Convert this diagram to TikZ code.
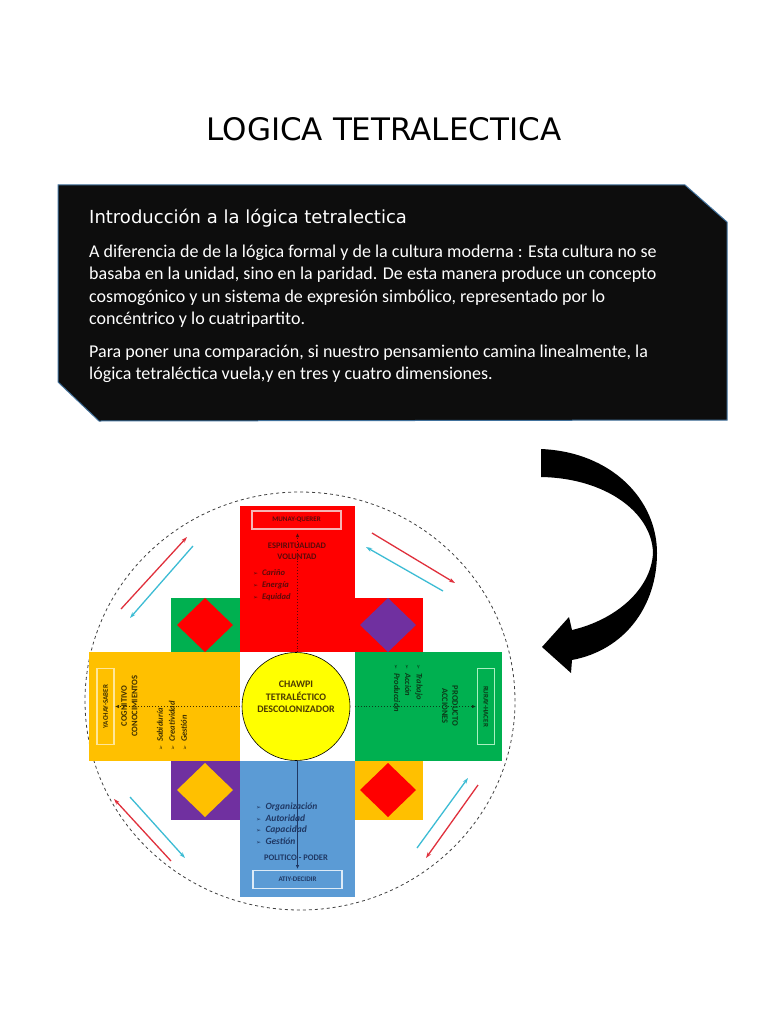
\documentclass[tikz,border=0pt]{standalone}
\usepackage{fontspec}
\setmainfont{Carlito}
\newfontfamily\dejavu{DejaVu Sans}
\usetikzlibrary{arrows.meta}
\definecolor{boxblack}{HTML}{0D0D0D}
\definecolor{boxedge}{HTML}{41719C}
\definecolor{cred}{HTML}{FF0000}
\definecolor{cgreen}{HTML}{00B050}
\definecolor{corange}{HTML}{FFC000}
\definecolor{cblue}{HTML}{5B9BD5}
\definecolor{cpurple}{HTML}{7030A0}
\definecolor{cyellow}{HTML}{FFFF00}
\definecolor{arrred}{HTML}{E0303C}
\definecolor{arrcyan}{HTML}{3CBCD4}
\definecolor{tred}{HTML}{5C0A0A}
\definecolor{tyel}{HTML}{3F3000}
\definecolor{tgrn}{HTML}{0B3D1A}
\definecolor{tblu}{HTML}{1F3864}
\definecolor{tcen}{HTML}{4D3B00}
\definecolor{lpink}{HTML}{F6B4B4}
\definecolor{lyel}{HTML}{FFE699}
\definecolor{lgrn}{HTML}{A9F0C0}
\definecolor{lblu}{HTML}{DDEBF7}
\begin{document}
\begin{tikzpicture}[x=1pt,y=-1pt,
  bodytext/.style={anchor=base west,inner sep=0,text=white,font=\fontsize{18}{21}\selectfont},
  arm/.style={inner sep=0,draw=none},
  lblbox/.style={draw=#1,line width=1.3pt,inner sep=0,minimum width=89pt,minimum height=18pt,font=\bfseries\fontsize{7}{8}\selectfont},
  small/.style={inner sep=0,font=\bfseries\fontsize{8.5}{10}\selectfont},
  item/.style={inner sep=0,font=\bfseries\itshape\fontsize{8.5}{10}\selectfont},
  dotarrow/.style={dotted,line width=0.9pt,-{Latex[length=4pt,width=3.5pt]}},
  diag/.style={line width=1.3pt,-{Stealth[length=6pt,width=4pt]}},
]
\useasboundingbox (0,0) rectangle (768,1024);
\fill[white] (0,0) rectangle (768,1024);

% title
\node[anchor=base,inner sep=0,font=\dejavu\fontsize{31}{36}\selectfont] (title) at (384,141) {LOGICA TETRALECTICA};

% black text box
\draw[boxedge,fill=boxblack,line width=1pt] (58,185) -- (685,185) -- (727,222) -- (727,420) -- (99,421) -- (58,382) -- cycle;
\node[anchor=base west,inner sep=0,text=white,font=\dejavu\fontsize{18}{21}\selectfont] (head) at (89,224) {Introducción a la lógica tetralectica};
\node[bodytext] (l1) at (89,257) {A diferencia de de la lógica formal y de la cultura moderna : Esta cultura no se};
\node[bodytext] (l2) at (89,279) {basaba en la unidad, sino en la paridad. De esta manera produce un concepto};
\node[bodytext] (l3) at (89,302) {cosmogónico y un sistema de expresión simbólico, representado por lo};
\node[bodytext] (l4) at (89,324) {concéntrico y lo cuatripartito.};
\node[bodytext] (l5) at (89,357) {Para poner una comparación, si nuestro pensamiento camina linealmente, la};
\node[bodytext] (l6) at (89,379) {lógica tetraléctica vuela,y en tres y cuatro dimensiones.};

% big curved arrow
\fill[black] (541,449) .. controls (612,452) and (657,500) .. (657,553)
  .. controls (657,606) and (625,650) .. (572,660)
  -- (571,673) -- (542,647) -- (569,617) -- (572,630)
  .. controls (615,620) and (651,590) .. (653,553)
  .. controls (652,512) and (605,478) .. (541,477) -- cycle;

% dashed outer circle
\draw[dashed,line width=0.8pt,black!75] (300,701) ellipse [x radius=215pt,y radius=209pt];

% small corner squares with diamonds
\node[arm,fill=cgreen,minimum width=69pt,minimum height=54pt] (sqTL) at (205.5,625) {};
\node[arm,fill=cred,minimum width=69pt,minimum height=54pt] (sqTR) at (388.5,625) {};
\node[arm,fill=cpurple,minimum width=69pt,minimum height=59pt] (sqBL) at (205.5,790.5) {};
\node[arm,fill=corange,minimum width=69pt,minimum height=59pt] (sqBR) at (388.5,790.5) {};
\fill[cred] (205,598) -- (233,625) -- (205,652) -- (177,625) -- cycle;
\fill[cpurple] (388,598) -- (416,625) -- (388,652) -- (360,625) -- cycle;
\fill[corange] (205,763) -- (233,790) -- (205,817) -- (177,790) -- cycle;
\fill[cred] (388,763) -- (416,790) -- (388,817) -- (360,790) -- cycle;

% cross arms
\node[arm,fill=cred,minimum width=115pt,minimum height=146pt] (armT) at (297.5,579) {};
\node[arm,fill=cblue,minimum width=115pt,minimum height=136pt] (armB) at (297.5,829) {};
\node[arm,fill=corange,minimum width=151pt,minimum height=109pt] (armL) at (164.5,706.5) {};
\node[arm,fill=cgreen,minimum width=147pt,minimum height=109pt] (armR) at (428.5,706.5) {};

% label boxes
\node[lblbox=lpink,text=tred] (labT) at (296.5,520) {MUNAY-QUERER};
\node[lblbox=lblu,text=tblu] (labB) at (297.5,879.5) {ATIY-DECIDIR};
\node[lblbox=lyel,text=tyel,rotate=90,minimum width=76pt,minimum height=17pt] (labL) at (105.5,706.5) {YACHAY-SABER};
\node[lblbox=lgrn,text=tgrn,rotate=-90,minimum width=76pt,minimum height=17pt] (labR) at (486,706.5) {RURAY-HACER};

% axis arrows
\coordinate (tipT) at (297.5,533);
\coordinate (tipB) at (297.5,869);
\coordinate (tipL) at (115,706.5);
\coordinate (tipR) at (476,706.5);
\draw[dotarrow,tred] (armT.south) -- (tipT);
\draw[dotarrow,tyel] (armL.east) -- (tipL);
\draw[dotarrow,tgrn] (armR.west) -- (tipR);
\draw[line width=0.9pt,tblu,-{Latex[length=4pt,width=3.5pt]}] (armB.north) -- (tipB);

% top arm texts
\node[small,text=tred] (tT1) at (297,546) {ESPIRITUALIDAD};
\node[small,text=tred] (tT2) at (297,557) {VOLUNTAD};
\node[item,text=tred,anchor=west] (tT3) at (253,573) {{\dejavu\fontsize{6}{7}\selectfont ➢}\ \ Cariño};
\node[item,text=tred,anchor=west] (tT4) at (253,585) {{\dejavu\fontsize{6}{7}\selectfont ➢}\ \ Energía};
\node[item,text=tred,anchor=west] (tT5) at (253,597) {{\dejavu\fontsize{6}{7}\selectfont ➢}\ \ Equidad};

% bottom arm texts
\node[item,text=tblu,anchor=west,font=\bfseries\itshape\fontsize{9.5}{11}\selectfont] (tB1) at (256,807) {{\dejavu\fontsize{6}{7}\selectfont ➢}\ \ Organización};
\node[item,text=tblu,anchor=west,font=\bfseries\itshape\fontsize{9.5}{11}\selectfont] (tB2) at (256,818.5) {{\dejavu\fontsize{6}{7}\selectfont ➢}\ \ Autoridad};
\node[item,text=tblu,anchor=west,font=\bfseries\itshape\fontsize{9.5}{11}\selectfont] (tB3) at (256,830) {{\dejavu\fontsize{6}{7}\selectfont ➢}\ \ Capacidad};
\node[item,text=tblu,anchor=west,font=\bfseries\itshape\fontsize{9.5}{11}\selectfont] (tB4) at (256,841.5) {{\dejavu\fontsize{6}{7}\selectfont ➢}\ \ Gestión};
\node[inner sep=0,text=tblu,font=\bfseries\fontsize{8.5}{9}\selectfont] (tB5) at (296,858) {POLITICO - PODER};

% left arm texts
\node[small,text=tyel,rotate=90,font=\bfseries\fontsize{8.5}{9}\selectfont] (tL1) at (124,706) {COGNITIVO};
\node[small,text=tyel,rotate=90,font=\bfseries\fontsize{8.5}{9}\selectfont] (tL2) at (134.5,706) {CONOCIMIENTOS};
\node[item,text=tyel,rotate=90,anchor=west] (tL3) at (160,751) {{\dejavu\fontsize{6}{7}\selectfont ➢}\ \ Sabiduría};
\node[item,text=tyel,rotate=90,anchor=west] (tL4) at (172,751) {{\dejavu\fontsize{6}{7}\selectfont ➢}\ \ Creatividad};
\node[item,text=tyel,rotate=90,anchor=west] (tL5) at (184,751) {{\dejavu\fontsize{6}{7}\selectfont ➢}\ \ Gestión};

% right arm texts
\node[small,text=tgrn,rotate=-90,font=\bfseries\fontsize{8.5}{9}\selectfont] (tR1) at (455,706) {PRODUCTO};
\node[small,text=tgrn,rotate=-90,font=\bfseries\fontsize{8.5}{9}\selectfont] (tR2) at (445,706) {ACCIONES};
\node[item,text=tgrn,rotate=-90,anchor=west] (tR3) at (419,664) {{\dejavu\fontsize{6}{7}\selectfont ➢}\ \ Trabajo};
\node[item,text=tgrn,rotate=-90,anchor=west] (tR4) at (408,664) {{\dejavu\fontsize{6}{7}\selectfont ➢}\ \ Acción};
\node[item,text=tgrn,rotate=-90,anchor=west] (tR5) at (397,664) {{\dejavu\fontsize{6}{7}\selectfont ➢}\ \ Producción};

% centre circle
\node[circle,draw=black,line width=0.6pt,fill=cyellow,minimum size=108pt,inner sep=0] (chawpi) at (296,706.5) {};
\node[inner sep=0,align=center,text=tcen,font=\bfseries\fontsize{10}{12.5}\selectfont] (chawpitext) at (296,697) {CHAWPI\\TETRALÉCTICO\\DESCOLONIZADOR};

% diagonal arrows
\coordinate (a1s) at (121,609); \coordinate (a1e) at (187,537);
\coordinate (b1s) at (193,546); \coordinate (b1e) at (130,618);
\coordinate (a2s) at (372,533); \coordinate (a2e) at (455,583);
\coordinate (b2s) at (443,591); \coordinate (b2e) at (366,547);
\coordinate (a3s) at (171,861); \coordinate (a3e) at (114,799);
\coordinate (b3s) at (130,797); \coordinate (b3e) at (185,858);
\coordinate (a4s) at (478,785); \coordinate (a4e) at (426,858);
\coordinate (b4s) at (417,848); \coordinate (b4e) at (468,778);
\draw[diag,arrred] (a1s) -- (a1e);
\draw[diag,arrcyan] (b1s) -- (b1e);
\draw[diag,arrred] (a2s) -- (a2e);
\draw[diag,arrcyan] (b2s) -- (b2e);
\draw[diag,arrred] (a3s) -- (a3e);
\draw[diag,arrcyan] (b3s) -- (b3e);
\draw[diag,arrred] (a4s) -- (a4e);
\draw[diag,arrcyan] (b4s) -- (b4e);
\end{tikzpicture}
\end{document}
